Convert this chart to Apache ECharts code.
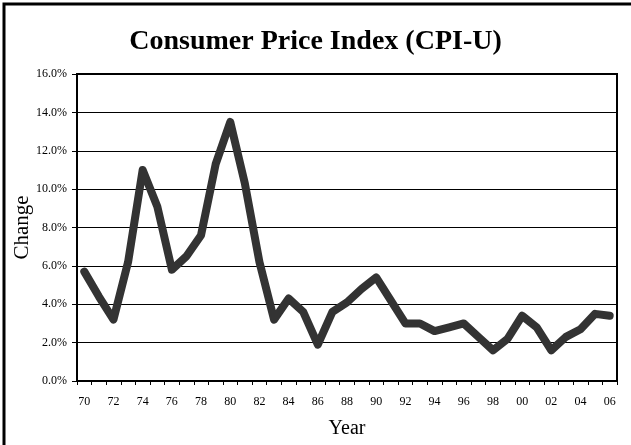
<!DOCTYPE html>
<html>
<head>
<meta charset="utf-8">
<script src="https://cdn.jsdelivr.net/npm/echarts@6/dist/echarts.min.js"></script>
<style>
  html, body { margin: 0; padding: 0; background: #fff; }
  #chart { width: 631px; height: 445px; }
</style>
</head>
<body>
<div id="chart"></div>
<script>
  // years 1970 - 2006, two-digit labels
  var years = ['70', '71', '72', '73', '74', '75', '76', '77', '78', '79',
    '80', '81', '82', '83', '84', '85', '86', '87', '88', '89',
    '90', '91', '92', '93', '94', '95', '96', '97', '98', '99',
    '00', '01', '02', '03', '04', '05', '06']
  // annual change, percent
  var cpiChange = [5.7, 4.4, 3.2, 6.2, 11.0, 9.1, 5.8, 6.5, 7.6, 11.3,
    13.5, 10.3, 6.2, 3.2, 4.3, 3.6, 1.9, 3.6, 4.1, 4.8,
    5.4, 4.2, 3.0, 3.0, 2.6, 2.8, 3.0, 2.3, 1.6, 2.2,
    3.4, 2.8, 1.6, 2.3, 2.7, 3.5, 3.4]

  var serif = '"Liberation Serif", "DejaVu Serif", serif'
  var chart = echarts.init(document.getElementById('chart'))
  chart.setOption({
    animation: false,
    backgroundColor: '#fff',
    title: {
      text: 'Consumer Price Index (CPI-U)',
      left: 'center',
      top: 23,
      textStyle: {fontFamily: serif, fontSize: 28, fontWeight: 'bold', color: '#000'}
    },
    graphic: [{
      type: 'rect',
      shape: {x: 4, y: 4, width: 700, height: 600},
      style: {fill: 'none', stroke: '#000', lineWidth: 3}
    }],
    grid: {
      left: 77,
      right: 14,
      top: 74,
      bottom: 64,
      outerBoundsMode: 'none',
      show: true,
      borderColor: '#000',
      borderWidth: 2
    },
    xAxis: {
      type: 'category',
      data: years,
      boundaryGap: true,
      name: 'Year',
      nameLocation: 'middle',
      nameGap: 38,
      nameTextStyle: {fontFamily: serif, fontSize: 20, color: '#000'},
      axisLine: {lineStyle: {color: '#000', width: 2}},
      axisTick: {show: true, interval: 0, length: 4, lineStyle: {color: '#000'}},
      axisLabel: {interval: 1, fontFamily: serif, fontSize: 12, color: '#000', margin: 15}
    },
    yAxis: {
      type: 'value',
      min: 0,
      max: 16,
      interval: 2,
      name: 'Change',
      nameLocation: 'middle',
      nameGap: 44,
      nameMoveOverlap: false,
      nameTextStyle: {fontFamily: serif, fontSize: 21, color: '#000'},
      axisLine: {show: true, lineStyle: {color: '#000', width: 2}},
      axisTick: {show: true, length: 5, lineStyle: {color: '#000'}},
      axisLabel: {
        fontFamily: serif, fontSize: 12, color: '#000', margin: 10,
        formatter: function (v) { return v.toFixed(1) + '%' }
      },
      splitLine: {show: true, lineStyle: {color: '#000', width: 1}}
    },
    series: [{
      type: 'line',
      data: cpiChange,
      symbol: 'none',
      lineStyle: {color: '#333', width: 8, join: 'round', cap: 'round'}
    }]
  })
</script>
</body>
</html>
